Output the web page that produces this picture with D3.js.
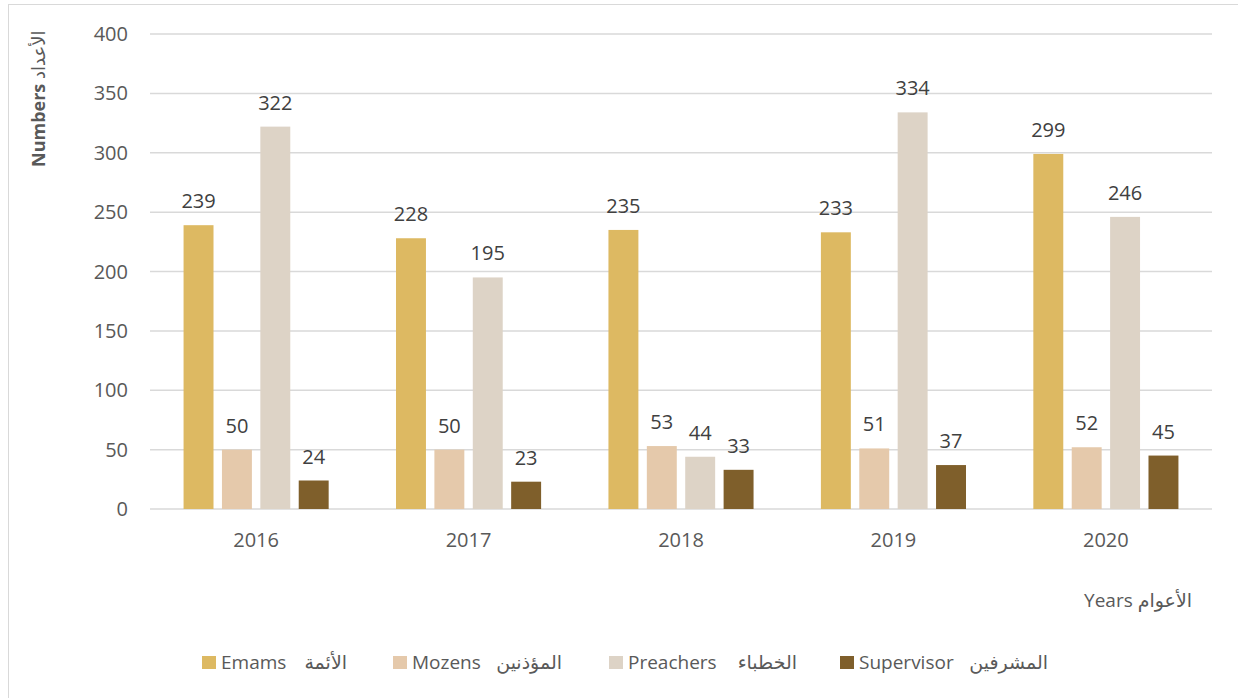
<!DOCTYPE html>
<html>
<head>
<meta charset="utf-8">
<script src="https://cdn.jsdelivr.net/npm/d3@7"></script>
<style>
  body { margin: 0; background: #fff; }
  text { font-family: "Open Sans", "DejaVu Sans", sans-serif; }
</style>
</head>
<body>
<div id="chart"></div>
<script>
const years = ["2016", "2017", "2018", "2019", "2020"];
const seriesNames = ["Emams", "Mozens", "Preachers", "Supervisor"];
const seriesArabic = ["الأئمة", "المؤذنين", "الخطباء", "المشرفين"];
const seriesColors = ["#ddb962", "#e5c9ab", "#ddd3c6", "#7f5f2b"];
const emams = [239, 228, 235, 233, 299];
const mozens = [50, 50, 53, 51, 52];
const preachers = [322, 195, 44, 334, 246];
const supervisor = [24, 23, 33, 37, 45];
const yTicks = [0, 50, 100, 150, 200, 250, 300, 350, 400];

const values = [emams, mozens, preachers, supervisor];

const W = 1238, H = 698;
const svg = d3.select("#chart").append("svg")
    .attr("width", W)
    .attr("height", H);

// outer frame
svg.append("rect")
    .attr("x", 8.5).attr("y", 4.5)
    .attr("width", W).attr("height", H)
    .attr("fill", "none")
    .attr("stroke", "#d9d9d9");

const plotLeft = 150, plotRight = 1212, plotTop = 34, plotBottom = 509;

const x0 = d3.scaleBand()
    .domain(years)
    .range([plotLeft, plotRight])
    .paddingInner(0.317)
    .paddingOuter(0.158);

const x1 = d3.scaleBand()
    .domain(seriesNames)
    .range([0, x0.bandwidth()])
    .paddingInner(0.22)
    .paddingOuter(0);

const y = d3.scaleLinear()
    .domain([0, 400])
    .range([plotBottom, plotTop]);

// gridlines
svg.append("g")
    .selectAll("line")
    .data(yTicks)
    .enter()
    .append("line")
    .attr("x1", plotLeft).attr("x2", plotRight)
    .attr("y1", d => y(d)).attr("y2", d => y(d))
    .attr("stroke", "#d9d9d9")
    .attr("stroke-width", 1.5);

// y tick labels
svg.append("g")
    .selectAll("text")
    .data(yTicks)
    .enter()
    .append("text")
    .attr("x", 128)
    .attr("y", d => y(d))
    .attr("dy", "0.35em")
    .attr("text-anchor", "end")
    .style("font-size", "20px")
    .style("fill", "#595959")
    .text(d => d);

// x tick labels
svg.append("g")
    .selectAll("text")
    .data(years)
    .enter()
    .append("text")
    .attr("x", d => x0(d) + x0.bandwidth() / 2)
    .attr("y", 547)
    .attr("text-anchor", "middle")
    .style("font-size", "20px")
    .style("fill", "#595959")
    .text(d => d);

// bars
seriesNames.forEach((name, si) => {
    const g = svg.append("g");
    const rows = years.map((yr, i) => ({ yr, v: values[si][i] }));

    g.selectAll("rect")
        .data(rows)
        .enter()
        .append("rect")
        .attr("x", d => x0(d.yr) + x1(name))
        .attr("y", d => y(d.v))
        .attr("width", x1.bandwidth())
        .attr("height", d => y(0) - y(d.v))
        .attr("fill", seriesColors[si]);

    g.selectAll("text")
        .data(rows)
        .enter()
        .append("text")
        .attr("x", d => x0(d.yr) + x1(name) + x1.bandwidth() / 2)
        .attr("y", d => y(d.v) - 17)
        .attr("text-anchor", "middle")
        .style("font-size", "20px")
        .style("fill", "#404040")
        .text(d => d.v);
});

// y axis title
const yt = svg.append("text")
    .attr("transform", "translate(45,167) rotate(-90)")
    .attr("text-anchor", "start")
    .style("font-size", "18px")
    .style("fill", "#595959");
yt.append("tspan").style("font-weight", "bold").text("Numbers ");
yt.append("tspan").text("الأعداد");

// x axis title
svg.append("text")
    .attr("x", 1192)
    .attr("y", 607)
    .attr("text-anchor", "end")
    .style("font-size", "19px")
    .style("fill", "#595959")
    .text("Years الأعوام");

// legend
const legendX = [202, 393, 609, 840];
const arabicX = [347, 562, 797, 1048];
const legend = svg.append("g");
seriesNames.forEach((name, i) => {
    legend.append("rect")
        .attr("x", legendX[i])
        .attr("y", 656)
        .attr("width", 14)
        .attr("height", 13)
        .attr("fill", seriesColors[i]);
    legend.append("text")
        .attr("x", legendX[i] + 19)
        .attr("y", 669)
        .style("font-size", "19px")
        .style("fill", "#595959")
        .text(name);
    legend.append("text")
        .attr("x", arabicX[i])
        .attr("y", 669)
        .attr("text-anchor", "end")
        .style("font-size", "19px")
        .style("fill", "#595959")
        .text(seriesArabic[i]);
});
</script>
</body>
</html>
